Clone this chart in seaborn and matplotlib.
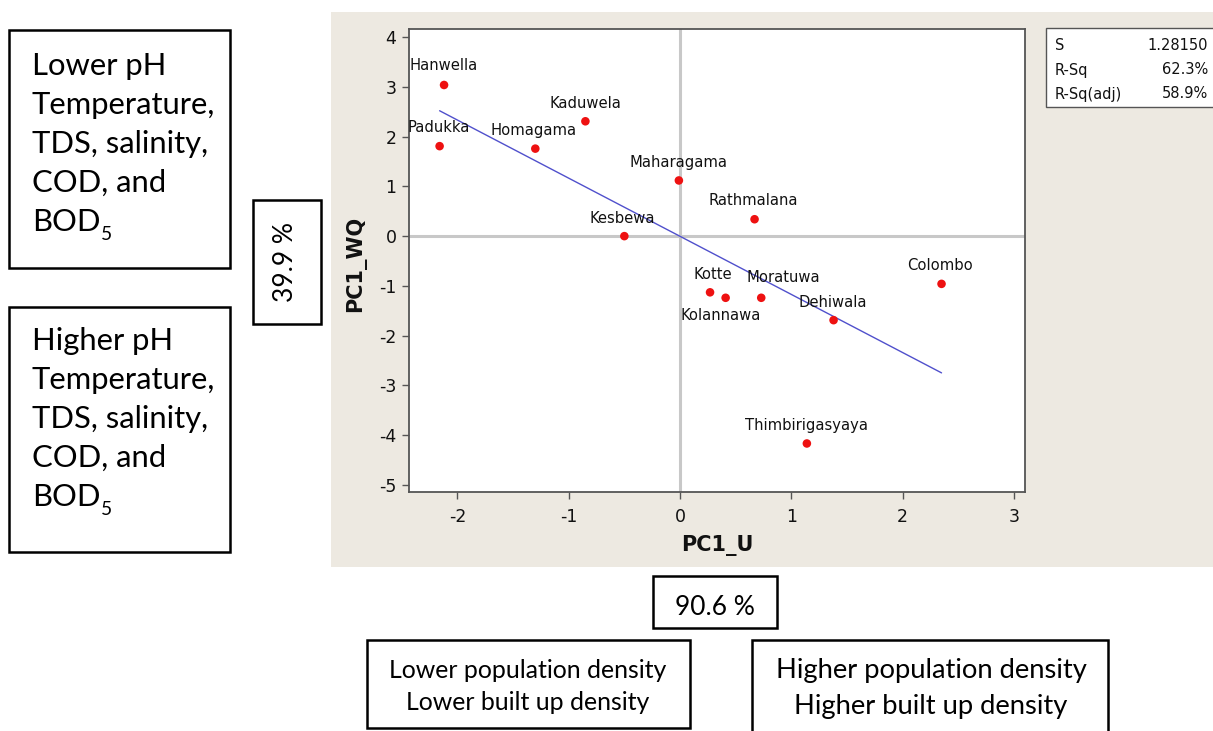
import numpy as np
import pandas as pd
import matplotlib
matplotlib.use("Agg")
import matplotlib.pyplot as plt
import seaborn as sns
from matplotlib.patches import Rectangle

# ---------------- data ----------------
sites = ["Hanwella", "Padukka", "Homagama", "Kaduwela", "Maharagama", "Kesbewa",
         "Rathmalana", "Kotte", "Kolannawa", "Moratuwa", "Dehiwala", "Colombo",
         "Thimbirigasyaya"]
pc1_u = [-2.12, -2.16, -1.30, -0.85, -0.01, -0.50, 0.67, 0.27, 0.41, 0.73, 1.38, 2.35, 1.14]
pc1_wq = [3.04, 1.81, 1.76, 2.31, 1.12, 0.00, 0.34, -1.13, -1.24, -1.24, -1.69, -0.96, -4.17]
x_ticks = [-2, -1, 0, 1, 2, 3]
y_ticks = [-5, -4, -3, -2, -1, 0, 1, 2, 3, 4]
stats_labels = ["S", "R-Sq", "R-Sq(adj)"]
stats_values = ["1.28150", "62.3%", "58.9%"]
wq_low_lines = ["Lower pH", "Temperature,", "TDS, salinity,", "COD, and"]
wq_high_lines = ["Higher pH", "Temperature,", "TDS, salinity,", "COD, and"]
bod_main, bod_sub = "BOD", "5"
u_low_lines = ["Lower population density", "Lower built up density"]
u_high_lines = ["Higher population density", "Higher built up density"]
y_var_text = "39.9 %"
x_var_text = "90.6 %"

# label offsets (pixels) for each point label
label_offsets = [(0, 19), (-1, 19), (-2, 18), (0, 18), (0, 18), (-2, 18), (-1, 19),
                 (3, 18), (-5, -18), (22, 20), (-1, 18), (-2, 18), (0, 18)]

# ---------------- style ----------------
sns.set_style("white")
plt.rcParams["font.family"] = ["DejaVu Sans"]

W, H = 1213, 731
fig = plt.figure(figsize=(W / 100, H / 100), dpi=100)
fig.patch.set_facecolor("white")


def fx(x):
    return x / W


def fy(y):
    return 1 - y / H


def rect(x0, y0, x1, y1, **kw):
    fig.add_artist(Rectangle((fx(x0), fy(y1)), (x1 - x0) / W, (y1 - y0) / H,
                             transform=fig.transFigure, **kw))


# beige Minitab panel
rect(331, 12, 1213, 567, facecolor="#EDE9E1", edgecolor="none", zorder=0)

ax_l, ax_t, ax_r, ax_b = 409, 29.3, 1025, 491.7
ax = fig.add_axes([fx(ax_l), fy(ax_b), (ax_r - ax_l) / W, (ax_b - ax_t) / H])
ax.set_facecolor("white")

df = pd.DataFrame({"site": sites, "PC1_U": pc1_u, "PC1_WQ": pc1_wq})

ax.axvline(0, color="#C8C8C8", lw=2.2, zorder=1)
ax.axhline(0, color="#C8C8C8", lw=2.2, zorder=1)
sns.regplot(data=df, x="PC1_U", y="PC1_WQ", scatter=False, ci=None, ax=ax,
            line_kws=dict(color="#5050CC", lw=1.0, zorder=2))
sns.scatterplot(data=df, x="PC1_U", y="PC1_WQ", color="#EE1111", s=38,
                edgecolor="none", ax=ax, zorder=3, legend=False)

for name, xv, yv, (dx, dy) in zip(sites, pc1_u, pc1_wq, label_offsets):
    ax.annotate(name, (xv, yv), xytext=(dx, dy), textcoords="offset pixels",
                ha="center", va="center", fontsize=10.6, color="#111111", zorder=4)

ax.set_xlim(-2.435, 3.10)
ax.set_ylim(-5.14, 4.16)
ax.set_xticks(x_ticks)
ax.set_yticks(y_ticks)
ax.set_xticklabels([str(t) for t in x_ticks])
ax.set_yticklabels([str(t) for t in y_ticks])
ax.tick_params(axis="both", direction="out", length=5, width=1, color="#555555",
               labelsize=12.5, labelcolor="#111111")
ax.tick_params(axis="x", pad=7)
ax.tick_params(axis="y", pad=4)
ax.tick_params(bottom=True, left=True, top=False, right=False)
for sp in ax.spines.values():
    sp.set_color("#555555")
    sp.set_linewidth(1.3)

ax.set_xlabel("PC1_U", fontsize=15, fontweight="bold", va="center", color="#111111")
ax.xaxis.set_label_coords(0.5, (ax_b - 545) / (ax_b - ax_t))
ax.set_ylabel("PC1_WQ", fontsize=15, fontweight="bold", va="center", color="#111111")
ax.yaxis.set_label_coords((356 - ax_l) / (ax_r - ax_l), (ax_b - 264) / (ax_b - ax_t))

# stats box
rect(1045.7, 28, 1230, 107, facecolor="white", edgecolor="#555555", lw=1.0, zorder=1)
for i, (lab, val) in enumerate(zip(stats_labels, stats_values)):
    yy = 46 + 24 * i
    fig.text(fx(1055), fy(yy), lab, ha="left", va="center", fontsize=10.5, color="#111111")
    fig.text(fx(1208), fy(yy), val, ha="right", va="center", fontsize=10.5, color="#111111")

# annotation boxes (Calibri-like)
box_font = ["Lato", "DejaVu Sans"]
renderer = fig.canvas.get_renderer()


def box_lines(lines, x, y0, step, size):
    for i, line in enumerate(lines):
        fig.text(fx(x), fy(y0 + step * i), line, ha="left", va="baseline",
                 fontsize=size, family=box_font, color="black")
    yb = y0 + step * len(lines)
    t = fig.text(fx(x), fy(yb), bod_main, ha="left", va="baseline",
                 fontsize=size, family=box_font, color="black")
    bb = t.get_window_extent(renderer=renderer)
    fig.text(fx(bb.x1 + 1), fy(yb + 9), bod_sub, ha="left", va="baseline",
             fontsize=size * 0.62, family=box_font, color="black")


rect(9, 30, 230, 267.7, facecolor="none", edgecolor="black", lw=1.8)
box_lines(wq_low_lines, 31.7, 75, 39, 22.3)
rect(9, 306.7, 230, 551.7, facecolor="none", edgecolor="black", lw=1.8)
box_lines(wq_high_lines, 31.7, 350, 39, 22.3)

rect(253, 200, 321, 324, facecolor="none", edgecolor="black", lw=1.8)
fig.text(fx(293.3), fy(262.5), y_var_text, rotation=90, rotation_mode="anchor",
         ha="center", va="baseline", fontsize=19, family=box_font, color="black")

rect(653.3, 576, 776.7, 628.3, facecolor="none", edgecolor="black", lw=1.8)
fig.text(fx(714.5), fy(615), x_var_text, ha="center", va="baseline",
         fontsize=19, family=box_font, color="black")

rect(367.3, 640, 690, 727.7, facecolor="none", edgecolor="black", lw=1.8)
for i, line in enumerate(u_low_lines):
    fig.text(fx(528), fy(677.7 + 32.8 * i), line, ha="center", va="baseline",
             fontsize=17.9, family=box_font, color="black")
rect(752.3, 640, 1108.3, 745, facecolor="none", edgecolor="black", lw=1.8)
for i, line in enumerate(u_high_lines):
    fig.text(fx(931), fy(678.3 + 36 * i), line, ha="center", va="baseline",
             fontsize=19.7, family=box_font, color="black")

fig.savefig("out.png", dpi=100, facecolor="white")
